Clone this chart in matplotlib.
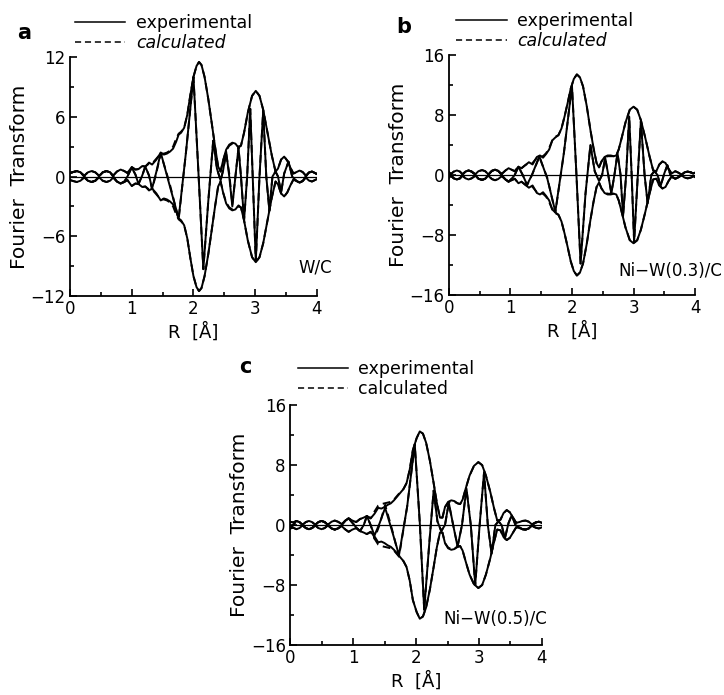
import matplotlib
matplotlib.use('Agg')
import matplotlib.pyplot as plt
from matplotlib.ticker import MultipleLocator

# ---------------- panel a : W/C ----------------
r_env_a = [0.00, 0.05, 0.11, 0.17, 0.23, 0.29, 0.35, 0.41, 0.47, 0.53, 0.59, 0.65, 0.70, 0.76, 0.82,
           0.88, 0.93, 1.00, 1.06, 1.11, 1.17, 1.22, 1.28, 1.33, 1.40, 1.47, 1.52, 1.57, 1.62, 1.67,
           1.72, 1.76, 1.80, 1.85, 1.90, 1.95, 2.00, 2.05, 2.09, 2.13, 2.18, 2.24, 2.30, 2.35, 2.40,
           2.44, 2.48, 2.53, 2.58, 2.63, 2.68, 2.73, 2.77, 2.82, 2.88, 2.95, 3.01, 3.07, 3.13, 3.20,
           3.27, 3.33, 3.37, 3.42, 3.47, 3.52, 3.57, 3.62, 3.67, 3.72, 3.77, 3.82, 3.87, 3.92, 3.97, 4.00]
ft_exp_a = [0.35, 0.45, 0.55, 0.42, 0.08, 0.42, 0.55, 0.42, 0.08, 0.42, 0.55, 0.42, 0.10, 0.50, 0.70,
            0.55, 0.35, 0.95, 0.70, 0.75, 1.05, 1.00, 1.40, 1.20, 1.70, 2.40, 2.20, 2.30, 2.50, 2.80,
            3.50, 4.20, 4.40, 4.90, 6.20, 8.20, 10.0, 11.1, 11.5, 11.2, 10.0, 7.8, 5.2, 3.0, 1.0,
            0.5, 1.6, 2.7, 3.2, 3.4, 3.3, 2.9, 3.1, 4.4, 6.4, 8.1, 8.6, 8.1, 6.7, 4.4,
            2.1, 0.5, 0.8, 1.7, 2.0, 1.6, 0.9, 0.3, 0.45, 0.6, 0.45, 0.1, 0.4, 0.5, 0.35, 0.25]
ft_calc_a = [0.35, 0.45, 0.55, 0.42, 0.08, 0.42, 0.55, 0.42, 0.08, 0.42, 0.55, 0.42, 0.10, 0.50, 0.70,
             0.55, 0.35, 0.95, 0.70, 0.75, 1.05, 1.00, 1.30, 1.30, 1.80, 2.30, 2.30, 2.40, 2.60, 3.00,
             3.80, 4.30, 4.50, 4.90, 6.20, 8.20, 10.0, 11.1, 11.5, 11.2, 10.0, 7.8, 5.2, 3.0, 1.0,
             0.5, 1.6, 2.6, 3.1, 3.3, 3.2, 3.0, 3.1, 4.4, 6.4, 8.1, 8.6, 8.1, 6.7, 4.4,
             2.1, 0.5, 0.8, 1.7, 2.0, 1.6, 0.9, 0.3, 0.45, 0.6, 0.45, 0.1, 0.4, 0.5, 0.35, 0.25]
r_im_a = [0.00, 0.05, 0.11, 0.17, 0.23, 0.29, 0.35, 0.41, 0.47, 0.53, 0.59, 0.65, 0.70, 0.76, 0.82,
          0.88, 0.93, 1.00, 1.06, 1.11, 1.17, 1.22, 1.28, 1.33, 1.40, 1.47, 1.61, 1.76, 1.88, 2.00,
          2.08, 2.16, 2.24, 2.32, 2.38, 2.44, 2.48, 2.53, 2.58, 2.63, 2.68, 2.73, 2.77, 2.82, 2.87,
          2.92, 2.96, 3.01, 3.07, 3.13, 3.18, 3.23, 3.28, 3.33, 3.37, 3.42, 3.47, 3.54, 3.60, 3.67,
          3.72, 3.77, 3.82, 3.87, 3.92, 3.97, 4.00]
im_exp_a = [0.35, 0.45, 0.55, 0.42, 0.0, -0.42, -0.55, -0.42, 0.0, 0.42, 0.55, 0.42, 0.0, -0.50, -0.70,
            -0.50, 0.0, 0.90, 0.2, -0.75, 0.1, 1.00, 0.1, -1.20, 0.5, 2.40, -0.8, -4.20, 2.5, 10.0,
            0.5, -9.3, -2.5, 3.6, 0.8, -0.4, 0.6, 2.5, 0.0, -3.0, 0.0, 2.9, 0.0, -4.4, 0.0,
            6.8, 0.0, -8.5, 0.0, 6.6, 0.0, -3.4, 0.0, 0.5, 0.0, -1.6, 0.3, 1.5, 0.0, -0.45,
            -0.6, -0.45, 0.0, 0.4, 0.5, 0.35, 0.25]
im_calc_a = [0.35, 0.45, 0.55, 0.42, 0.0, -0.42, -0.55, -0.42, 0.0, 0.42, 0.55, 0.42, 0.0, -0.50, -0.70,
             -0.50, 0.0, 0.90, 0.2, -0.75, 0.1, 1.00, 0.1, -1.30, 0.4, 2.30, -0.6, -4.30, 2.5, 10.0,
             0.5, -9.3, -2.5, 3.6, 0.8, -0.4, 0.6, 2.3, 0.3, -2.8, 0.0, 2.9, 0.0, -4.4, 0.0,
             6.8, 0.0, -8.5, 0.0, 6.6, 0.0, -3.4, 0.0, 0.5, 0.0, -1.6, 0.3, 1.5, 0.0, -0.45,
             -0.6, -0.45, 0.0, 0.4, 0.5, 0.35, 0.25]

# ---------------- panel b : Ni-W(0.3)/C ----------------
r_env_b = [0.00, 0.03, 0.08, 0.13, 0.18, 0.22, 0.27, 0.32, 0.37, 0.43, 0.48, 0.54, 0.59, 0.64, 0.70,
           0.75, 0.80, 0.86, 0.92, 0.97, 1.02, 1.07, 1.13, 1.18, 1.24, 1.30, 1.36, 1.43, 1.48, 1.53,
           1.58, 1.63, 1.68, 1.73, 1.78, 1.83, 1.88, 1.93, 1.98, 2.03, 2.08, 2.13, 2.18, 2.24, 2.30,
           2.35, 2.40, 2.44, 2.48, 2.53, 2.58, 2.63, 2.68, 2.72, 2.76, 2.81, 2.87, 2.94, 3.00, 3.06,
           3.12, 3.19, 3.26, 3.32, 3.37, 3.42, 3.47, 3.52, 3.57, 3.62, 3.68, 3.73, 3.78, 3.83, 3.88,
           3.93, 3.97, 4.00]
ft_exp_b = [0.4, 0.1, 0.45, 0.6, 0.45, 0.1, 0.45, 0.6, 0.45, 0.1, 0.5, 0.65, 0.5, 0.1, 0.55,
            0.7, 0.55, 0.15, 0.6, 0.9, 0.7, 0.5, 1.1, 0.9, 1.3, 1.7, 1.4, 2.4, 2.6, 2.3,
            2.8, 3.4, 4.6, 5.0, 5.3, 6.2, 7.8, 9.6, 11.5, 12.8, 13.4, 13.0, 11.8, 9.2, 6.0,
            3.6, 1.6, 1.0, 1.8, 2.4, 2.6, 2.6, 2.5, 2.6, 3.4, 5.0, 7.0, 8.7, 9.1, 8.7,
            7.3, 5.0, 2.5, 0.6, 0.5, 1.4, 1.8, 1.6, 0.8, 0.2, 0.5, 0.3, 0.05, 0.35, 0.45,
            0.35, 0.2, 0.3]
ft_calc_b = [0.4, 0.1, 0.45, 0.6, 0.45, 0.1, 0.45, 0.6, 0.45, 0.1, 0.5, 0.65, 0.5, 0.1, 0.55,
             0.7, 0.55, 0.15, 0.6, 0.9, 0.7, 0.5, 1.1, 0.9, 1.3, 1.6, 1.6, 2.3, 2.5, 2.5,
             2.9, 3.6, 4.6, 5.1, 5.3, 6.2, 7.8, 9.6, 11.5, 12.8, 13.4, 13.0, 11.8, 9.2, 6.0,
             3.6, 1.6, 1.0, 1.8, 2.3, 2.5, 2.5, 2.5, 2.6, 3.4, 5.0, 7.0, 8.7, 9.1, 8.7,
             7.3, 5.0, 2.5, 0.6, 0.5, 1.4, 1.8, 1.6, 0.8, 0.2, 0.5, 0.3, 0.05, 0.35, 0.45,
             0.35, 0.2, 0.3]
r_im_b = [0.00, 0.03, 0.08, 0.13, 0.18, 0.22, 0.27, 0.32, 0.37, 0.43, 0.48, 0.54, 0.59, 0.64, 0.70,
          0.75, 0.80, 0.86, 0.92, 0.97, 1.02, 1.07, 1.13, 1.20, 1.27, 1.35, 1.47, 1.60, 1.73, 1.87,
          2.00, 2.07, 2.14, 2.22, 2.30, 2.37, 2.44, 2.49, 2.54, 2.59, 2.64, 2.69, 2.74, 2.79, 2.83,
          2.88, 2.93, 2.97, 3.01, 3.07, 3.12, 3.18, 3.23, 3.29, 3.34, 3.39, 3.44, 3.50, 3.55, 3.60,
          3.65, 3.68, 3.73, 3.78, 3.83, 3.88, 3.93, 3.97, 4.00]
im_exp_b = [0.4, 0.0, -0.45, -0.6, -0.45, 0.0, 0.45, 0.6, 0.45, 0.0, -0.5, -0.65, -0.5, 0.0, 0.55,
            0.7, 0.55, 0.0, -0.6, -0.9, -0.5, 0.0, 1.1, 0.0, -1.3, 0.0, 2.5, -0.5, -4.9, 3.0,
            11.9, 0.5, -11.8, -2.5, 4.0, 0.5, -0.8, 0.0, 2.3, 0.0, -2.5, 0.0, 2.9, 0.0, -5.5,
            0.0, 7.8, 0.0, -8.9, 0.0, 7.2, 0.0, -3.8, 0.0, 0.5, 0.0, -1.5, 0.2, 1.3, 0.0,
            -0.4, -0.5, -0.3, 0.0, 0.35, 0.45, 0.35, 0.2, 0.3]
im_calc_b = [0.4, 0.0, -0.45, -0.6, -0.45, 0.0, 0.45, 0.6, 0.45, 0.0, -0.5, -0.65, -0.5, 0.0, 0.55,
             0.7, 0.55, 0.0, -0.6, -0.9, -0.5, 0.0, 1.1, 0.0, -1.4, 0.0, 2.4, -0.4, -5.0, 3.0,
             11.9, 0.5, -11.8, -2.5, 4.0, 0.5, -0.8, 0.0, 2.2, 0.0, -2.4, 0.0, 2.9, 0.0, -5.5,
             0.0, 7.8, 0.0, -8.9, 0.0, 7.2, 0.0, -3.8, 0.0, 0.5, 0.0, -1.5, 0.2, 1.3, 0.0,
             -0.4, -0.5, -0.3, 0.0, 0.35, 0.45, 0.35, 0.2, 0.3]

# ---------------- panel c : Ni-W(0.5)/C ----------------
r_env_c = [0.00, 0.05, 0.10, 0.15, 0.20, 0.25, 0.30, 0.35, 0.40, 0.45, 0.50, 0.55, 0.60, 0.66, 0.71,
           0.76, 0.82, 0.88, 0.93, 0.99, 1.05, 1.11, 1.17, 1.22, 1.28, 1.34, 1.40, 1.45, 1.50, 1.55,
           1.60, 1.65, 1.70, 1.75, 1.80, 1.85, 1.90, 1.95, 2.01, 2.06, 2.11, 2.16, 2.22, 2.28, 2.33,
           2.38, 2.42, 2.46, 2.51, 2.56, 2.61, 2.66, 2.70, 2.74, 2.79, 2.85, 2.92, 2.99, 3.05, 3.11,
           3.18, 3.24, 3.29, 3.34, 3.39, 3.44, 3.49, 3.54, 3.59, 3.64, 3.69, 3.74, 3.79, 3.84, 3.90,
           3.95, 4.00]
ft_exp_c = [0.45, 0.35, 0.55, 0.4, 0.05, 0.4, 0.55, 0.4, 0.05, 0.4, 0.55, 0.4, 0.05, 0.45, 0.6,
            0.45, 0.15, 0.6, 0.9, 0.6, 0.4, 0.8, 1.0, 1.2, 0.9, 1.5, 2.3, 2.2, 2.4, 2.7,
            2.9, 3.3, 3.8, 4.3, 4.8, 5.6, 7.4, 10.0, 11.6, 12.5, 12.2, 11.0, 8.6, 5.6, 3.0,
            1.0, 1.0, 2.4, 3.1, 3.3, 3.2, 2.9, 2.8, 3.4, 4.9, 6.6, 7.9, 8.4, 8.0, 6.6,
            4.4, 2.2, 0.6, 0.7, 1.6, 2.0, 1.7, 1.0, 0.3, 0.4, 0.55, 0.6, 0.45, 0.1, 0.35,
            0.45, 0.3]
ft_calc_c = [0.45, 0.35, 0.55, 0.4, 0.05, 0.4, 0.55, 0.4, 0.05, 0.4, 0.55, 0.4, 0.05, 0.45, 0.6,
             0.45, 0.15, 0.6, 0.9, 0.6, 0.4, 0.8, 1.0, 1.2, 0.9, 1.8, 2.6, 2.8, 2.9, 3.0,
             3.1, 3.4, 3.9, 4.4, 4.8, 5.6, 7.4, 10.0, 11.6, 12.5, 12.2, 11.0, 8.6, 5.6, 3.0,
             1.0, 1.0, 2.4, 3.0, 3.2, 3.1, 2.9, 2.8, 3.4, 4.9, 6.6, 7.9, 8.4, 8.0, 6.6,
             4.4, 2.2, 0.6, 0.7, 1.6, 2.0, 1.7, 1.0, 0.3, 0.4, 0.55, 0.6, 0.45, 0.1, 0.35,
             0.45, 0.3]
r_im_c = [0.00, 0.05, 0.10, 0.15, 0.20, 0.25, 0.30, 0.35, 0.40, 0.45, 0.50, 0.55, 0.60, 0.66, 0.71,
          0.76, 0.82, 0.88, 0.93, 0.99, 1.05, 1.11, 1.17, 1.22, 1.28, 1.34, 1.42, 1.51, 1.62, 1.73,
          1.86, 1.98, 2.06, 2.13, 2.21, 2.28, 2.34, 2.40, 2.46, 2.52, 2.59, 2.66, 2.73, 2.80, 2.87,
          2.94, 3.01, 3.08, 3.14, 3.20, 3.26, 3.31, 3.36, 3.41, 3.47, 3.52, 3.58, 3.64, 3.69, 3.74,
          3.79, 3.84, 3.90, 3.95, 4.00]
im_exp_c = [-0.45, 0.0, 0.55, 0.4, 0.0, -0.4, -0.55, -0.4, 0.0, 0.4, 0.55, 0.4, 0.0, -0.45, -0.6,
            -0.45, 0.0, 0.6, 0.9, 0.3, -0.3, -0.8, 0.0, 1.2, 0.0, -1.4, 0.2, 2.3, -0.8, -4.0,
            2.5, 10.8, 0.3, -11.3, -2.5, 4.6, 0.5, -0.8, 0.0, 3.0, 0.0, -2.9, 0.0, 4.9, 0.0,
            -8.0, 0.0, 7.0, 0.0, -3.8, 0.0, 0.5, 0.0, -1.8, 0.3, 1.3, 0.0, -0.3, -0.55, -0.6,
            -0.45, 0.0, 0.35, 0.45, 0.3]
im_calc_c = [-0.45, 0.0, 0.55, 0.4, 0.0, -0.4, -0.55, -0.4, 0.0, 0.4, 0.55, 0.4, 0.0, -0.45, -0.6,
             -0.45, 0.0, 0.6, 0.9, 0.3, -0.3, -0.8, 0.0, 1.2, 0.0, -1.8, 0.0, 2.7, -0.6, -4.2,
             2.5, 10.8, 0.3, -11.3, -2.5, 4.6, 0.5, -0.8, 0.0, 2.9, 0.0, -2.8, 0.0, 4.9, 0.0,
             -8.0, 0.0, 7.0, 0.0, -3.8, 0.0, 0.5, 0.0, -1.8, 0.3, 1.3, 0.0, -0.3, -0.55, -0.6,
             -0.45, 0.0, 0.35, 0.45, 0.3]

x_ticks = [0, 1, 2, 3, 4]
y_ticks_a = [-12, -6, 0, 6, 12]
y_ticks_bc = [-16, -8, 0, 8, 16]

LW = 1.4
DASH = (0, (4, 2.5))


def draw_panel(ax, r_env, ft_exp, ft_calc, r_im, im_exp, im_calc, yticks, sample,
               sample_pos, leg_anchor, italic_calc=True):
    ax.axhline(0, color='black', lw=0.9)
    # calculated (dashed) underneath, experimental (solid) on top
    ax.plot(r_env, ft_calc, color='black', lw=LW, ls=DASH)
    ax.plot(r_env, [-v for v in ft_calc], color='black', lw=LW, ls=DASH)
    calc, = ax.plot(r_im, im_calc, color='black', lw=LW, ls=DASH)
    ax.plot(r_env, ft_exp, color='black', lw=LW)
    ax.plot(r_env, [-v for v in ft_exp], color='black', lw=LW)
    exp, = ax.plot(r_im, im_exp, color='black', lw=LW)

    ax.set_xlim(0, 4)
    ax.set_ylim(yticks[0], yticks[-1])
    ax.set_xticks(x_ticks)
    ax.set_yticks(yticks)
    ax.xaxis.set_minor_locator(MultipleLocator(0.5))
    ax.yaxis.set_minor_locator(MultipleLocator(yticks[-1] / 4))
    ax.tick_params(which='both', direction='in', labelsize=12, width=1.2, pad=3)
    ax.tick_params(which='major', length=5)
    ax.tick_params(which='minor', length=3)
    for s in ['top', 'right']:
        ax.spines[s].set_visible(False)
    for s in ['left', 'bottom']:
        ax.spines[s].set_linewidth(1.3)

    ax.set_xlabel('R  [Å]', fontsize=13, labelpad=3)
    ax.set_ylabel('Fourier  Transform', fontsize=14.5, labelpad=1)
    ax.text(sample_pos[0], sample_pos[1], sample, transform=ax.transAxes, fontsize=12,
            ha='right', va='center')

    leg = ax.legend([exp, calc], ['experimental', 'calculated'], loc='lower left',
                    bbox_to_anchor=leg_anchor, frameon=False, fontsize=12.5, handlelength=2.9,
                    handletextpad=0.6, labelspacing=0.1, borderpad=0, borderaxespad=0)
    for h in leg.legend_handles:
        h.set_linewidth(1.1)
    if italic_calc:
        leg.get_texts()[1].set_style('italic')


fig = plt.figure(figsize=(7.24, 6.95), dpi=100)
ax_a = fig.add_axes([0.0967, 0.574, 0.341, 0.344])
ax_b = fig.add_axes([0.620, 0.5755, 0.340, 0.3455])
ax_c = fig.add_axes([0.4006, 0.072, 0.348, 0.345])

draw_panel(ax_a, r_env_a, ft_exp_a, ft_calc_a, r_im_a, im_exp_a, im_calc_a, y_ticks_a,
           'W/C', (1.06, 0.12), (0.02, 1.02))
draw_panel(ax_b, r_env_b, ft_exp_b, ft_calc_b, r_im_b, im_exp_b, im_calc_b, y_ticks_bc,
           'Ni\u2212W(0.3)/C', (1.11, 0.10), (0.03, 1.02))
draw_panel(ax_c, r_env_c, ft_exp_c, ft_calc_c, r_im_c, im_exp_c, im_calc_c, y_ticks_bc,
           'Ni\u2212W(0.5)/C', (1.02, 0.11), (0.03, 1.03), italic_calc=False)

# panel letters (figure pixels from the top-left)
for letter, (px, py) in zip(['a', 'b', 'c'], [(17, 33), (396, 27), (239, 367)]):
    fig.text(px / 724, 1 - py / 695, letter, fontsize=15, fontweight='bold',
             ha='left', va='center')

fig.savefig('out.png', dpi=100)
